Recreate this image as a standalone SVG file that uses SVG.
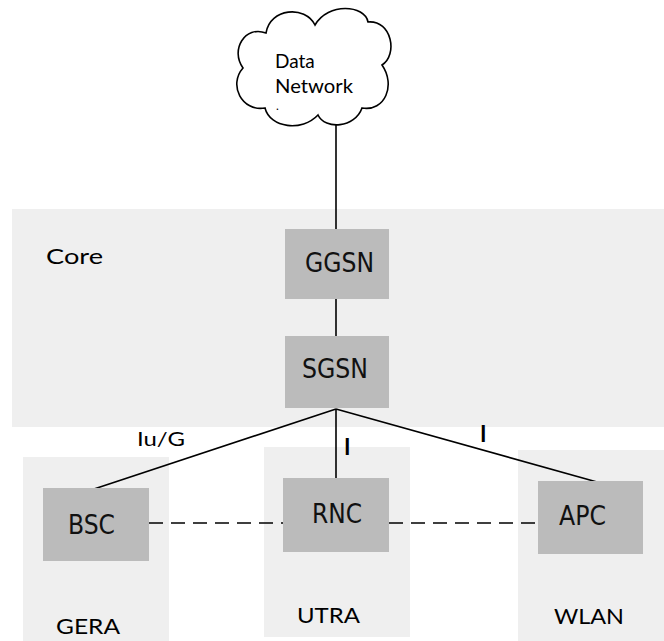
<svg xmlns="http://www.w3.org/2000/svg" width="664" height="641" viewBox="0 0 664 641">
<style>
.region{fill:#efefef}
.box{fill:#bbbbbb}
.hum{font-family:Lato,"Open Sans","Liberation Sans",sans-serif;fill:#000}
.cond{font-family:"DejaVu Sans","Liberation Sans",sans-serif;fill:#111}
.line{stroke:#000;stroke-width:1.6;fill:none}
.dash{stroke:#000;stroke-width:1.6;fill:none;stroke-dasharray:14 8}
</style>
<rect width="664" height="641" fill="#fff"/>
<g id="core-region">
<rect class="region" x="12" y="209" width="652" height="218"/>
<text class="hum" x="46" y="264" font-size="22" textLength="57" lengthAdjust="spacingAndGlyphs">Core</text>
</g>
<g id="gera-region">
<rect class="region" x="23" y="457" width="146" height="184"/>
<text class="hum" x="56" y="634" font-size="22" textLength="64" lengthAdjust="spacingAndGlyphs">GERA</text>
</g>
<g id="utra-region">
<rect class="region" x="264" y="447" width="146" height="190"/>
<text class="hum" x="297" y="623" font-size="22" textLength="63" lengthAdjust="spacingAndGlyphs">UTRA</text>
</g>
<g id="wlan-region">
<rect class="region" x="518" y="450" width="146" height="191"/>
<text class="hum" x="554" y="624" font-size="22" textLength="70" lengthAdjust="spacingAndGlyphs">WLAN</text>
</g>
<g id="connectors">
<line class="line" x1="336" y1="120" x2="336" y2="230"/>
<line class="line" x1="336" y1="299" x2="336" y2="336"/>
<line class="line" x1="336" y1="409" x2="94" y2="489"/>
<line class="line" x1="336" y1="409" x2="336" y2="478"/>
<line class="line" x1="336" y1="409" x2="597" y2="482"/>
<line class="dash" x1="149" y1="523" x2="283" y2="523"/>
<line class="dash" x1="389" y1="523" x2="538" y2="523"/>
<text class="hum" x="137" y="446" font-size="20" textLength="48" lengthAdjust="spacingAndGlyphs">Iu/G</text>
<text class="hum" x="344" y="455" font-size="22" font-weight="bold">I</text>
<text class="hum" x="480" y="442" font-size="22" font-weight="bold">I</text>
</g>
<g id="data-network">
<path d="M 265 108 C 242 112, 228 85, 243 68 C 230 50, 245 25, 266 33 C 270 8, 305 5, 315 25 C 328 2, 365 5, 368 22 C 392 20, 398 55, 382 65 C 396 85, 385 112, 362 108 C 355 128, 325 130, 318 115 C 302 132, 270 128, 265 108 Z" fill="#fff" stroke="#000" stroke-width="1.6"/>
<text class="hum" x="275" y="68" font-size="19">Data</text>
<text class="hum" x="275" y="93" font-size="19" textLength="78" lengthAdjust="spacingAndGlyphs">Network</text>
<text class="hum" x="276" y="110" font-size="12">.</text>
</g>
<g id="ggsn">
<rect class="box" x="285" y="229" width="104" height="70"/>
<text class="cond" x="305" y="272" font-size="26" textLength="69" lengthAdjust="spacingAndGlyphs">GGSN</text>
</g>
<g id="sgsn">
<rect class="box" x="285" y="336" width="104" height="72"/>
<text class="cond" x="302" y="378" font-size="26" textLength="66" lengthAdjust="spacingAndGlyphs">SGSN</text>
</g>
<g id="bsc">
<rect class="box" x="43" y="488" width="106" height="73"/>
<text class="cond" x="68" y="534" font-size="26" textLength="47" lengthAdjust="spacingAndGlyphs">BSC</text>
</g>
<g id="rnc">
<rect class="box" x="283" y="478" width="106" height="74"/>
<text class="cond" x="312" y="523" font-size="26" textLength="50" lengthAdjust="spacingAndGlyphs">RNC</text>
</g>
<g id="apc">
<rect class="box" x="538" y="481" width="105" height="73"/>
<text class="cond" x="559" y="525" font-size="26" textLength="47" lengthAdjust="spacingAndGlyphs">APC</text>
</g>
</svg>
